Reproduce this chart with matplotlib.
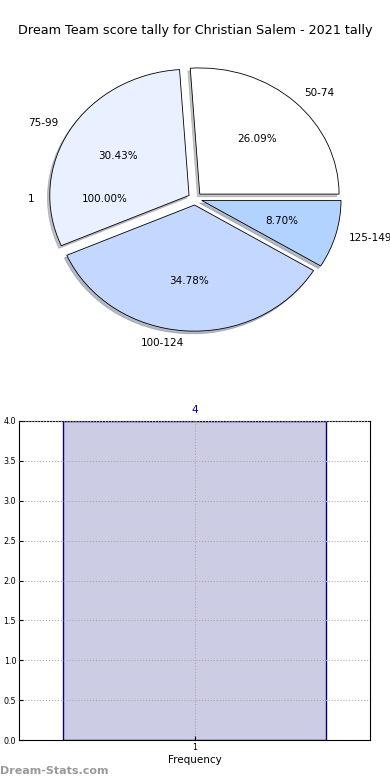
import matplotlib
matplotlib.use("Agg")
import matplotlib.pyplot as plt

# pie data: score ranges and counts
ranges = ["50-74", "75-99", "100-124", "125-149"]
counts = [6, 7, 8, 2]
pie_colors = ["#ffffff", "#e9f0ff", "#c4d7ff", "#b2d2ff"]

# second (stray) single-wedge pie
extra_labels = ["1"]
extra_counts = [1]

# bar data
bar_x = [1]
bar_heights = [4]

fig = plt.figure(figsize=(3.9, 7.8), dpi=100)
fig.text(0.5, 0.961, "Dream Team score tally for Christian Salem - 2021 tally",
         ha="center", va="center", fontsize=9.2)

# pie chart
ax1 = fig.add_axes([0.0, 0.535, 1.0, 0.4205])
wedges, texts, autotexts = ax1.pie(
    counts, labels=ranges, colors=pie_colors, explode=[0.05] * len(counts),
    autopct="%1.2f%%", startangle=0, labeldistance=1.1,
    shadow={"ox": -0.012, "oy": -0.015, "shade": 0.45},
    wedgeprops={"edgecolor": "black", "linewidth": 0.6},
    textprops={"fontsize": 7.5})
w2, t2, a2 = ax1.pie(
    extra_counts, labels=extra_labels, autopct="%1.2f%%", startangle=0,
    labeldistance=1.15, pctdistance=0.65, colors=["none"],
    wedgeprops={"linewidth": 0}, textprops={"fontsize": 7.5})
ax1.set_aspect("auto")
ax1.set_xlim(-1.4, 1.4)
ax1.set_ylim(-1.3, 1.3)
ax1.axis("off")

# bar chart
ax2 = fig.add_axes([19 / 390, 1 - 740 / 780, 351 / 390, 319 / 780])
ax2.bar(bar_x, bar_heights, width=0.75, color="#ccccE4", edgecolor="navy",
        linewidth=1.0, zorder=2)
for x, h in zip(bar_x, bar_heights):
    ax2.text(x, h + 0.08, str(h), ha="center", va="bottom", color="navy",
             fontsize=7.5)
ax2.set_xlim(0.5, 1.5)
ax2.set_ylim(0, 4)
ax2.set_xticks(bar_x)
ax2.set_yticks([0.0, 0.5, 1.0, 1.5, 2.0, 2.5, 3.0, 3.5, 4.0])
ax2.set_yticklabels(["0.0", "0.5", "1.0", "1.5", "2.0", "2.5", "3.0", "3.5", "4.0"])
ax2.tick_params(labelsize=5.8, length=3, direction="in", pad=2)
ax2.grid(True, linestyle=":", color="#aaaaaa", linewidth=0.8, zorder=3)
ax2.set_axisbelow(False)
ax2.set_xlabel("Frequency", fontsize=7.5, labelpad=2.5)

fig.text(0.0, 0.012, "Dream-Stats.com", fontsize=8, color="#999999",
         ha="left", va="center", fontweight="bold")

fig.savefig("out.png", dpi=100)
